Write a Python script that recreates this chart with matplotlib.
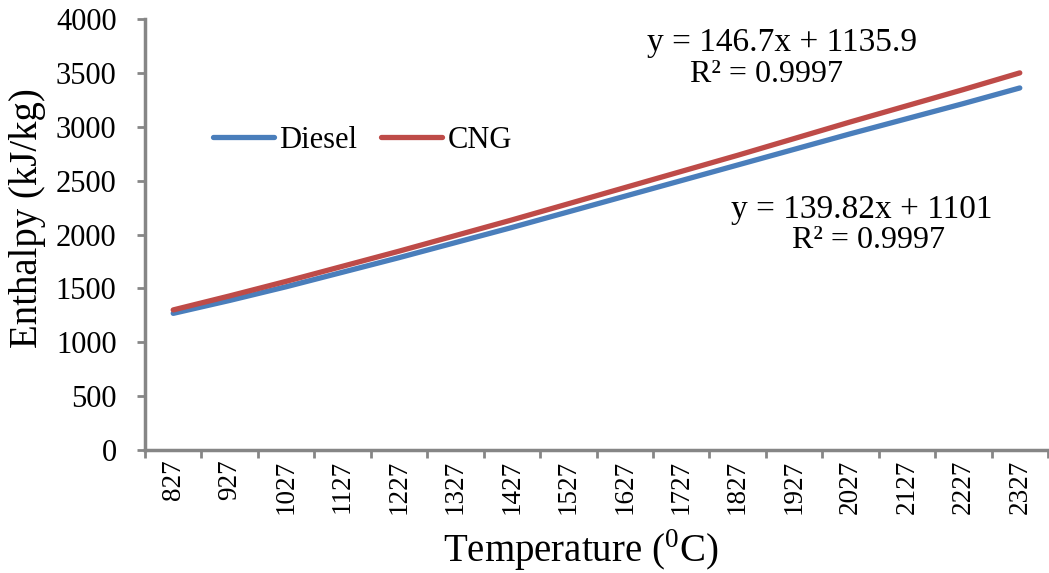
import matplotlib
matplotlib.use("Agg")
import matplotlib.pyplot as plt
import numpy as np

temperatures = ["827", "927", "1027", "1127", "1227", "1327", "1427", "1527",
                "1627", "1727", "1827", "1927", "2027", "2127", "2227", "2327"]
diesel = [1268, 1388, 1515, 1650, 1785, 1925, 2065, 2210,
          2355, 2500, 2645, 2790, 2935, 3075, 3215, 3360]
cng = [1300, 1430, 1565, 1705, 1845, 1990, 2135, 2285,
       2435, 2585, 2735, 2890, 3045, 3195, 3345, 3500]
yticks = [0, 500, 1000, 1500, 2000, 2500, 3000, 3500, 4000]

plt.rcParams['font.family'] = ['Liberation Serif', 'DejaVu Serif']
plt.rcParams['mathtext.fontset'] = 'custom'
plt.rcParams['mathtext.rm'] = 'Liberation Serif'

W, H = 1049, 573
fig = plt.figure(figsize=(W/100, H/100), dpi=100)
ax = fig.add_axes([145/W, 1-450/H, (1048-145)/W, (450-19)/H])

x = np.arange(len(temperatures))
blue = '#4A7EBB'
red = '#BE4B48'
ax.plot(x, diesel, color=blue, lw=3.8, solid_capstyle='round', label='Diesel')
ax.plot(x, cng, color=red, lw=3.8, solid_capstyle='round', label='CNG')

ax.set_xlim(-0.5, len(temperatures) - 0.5)
ax.set_ylim(0, 4000)
ax.set_yticks(yticks)
ax.set_yticklabels([str(v) for v in yticks], fontsize=22)

ax.set_xticks(np.arange(-0.5, len(temperatures)), minor=False)
ax.set_xticklabels([])
ax.set_xticks(x, minor=True)
ax.set_xticklabels(temperatures, minor=True, rotation=90, fontsize=19.5)
ax.tick_params(axis='x', which='minor', length=0, pad=7)
ax.tick_params(axis='x', which='major', length=6, width=2, color='#868686', direction='out')
ax.tick_params(axis='y', length=6, width=2, color='#868686', direction='out', pad=14.5)

for s in ['top', 'right']:
    ax.spines[s].set_visible(False)
for s in ['left', 'bottom']:
    ax.spines[s].set_color('#868686')
    ax.spines[s].set_linewidth(2.5)

fig.text(28/W, 1-218/H, 'Enthalpy (kJ/kg)', fontsize=28, rotation=90,
         ha='center', va='center')
fig.text(581/W, 1-550/H, r'Temperature ($^{\mathrm{0}}$C)', fontsize=28,
         ha='center', va='center')

leg = ax.legend(loc='center left', bbox_to_anchor=(185/W, 1-140/H),
                bbox_transform=fig.transFigure, ncol=2, frameon=False,
                fontsize=22, handlelength=2.0, handletextpad=0.17, columnspacing=0.8)

fig.text(782/W, 1-43/H, 'y = 146.7x + 1135.9', fontsize=24, ha='center', va='center')
fig.text(767/W, 1-75/H, 'R² = 0.9997', fontsize=23, ha='center', va='center')
fig.text(862/W, 1-210/H, 'y = 139.82x + 1101', fontsize=24, ha='center', va='center')
fig.text(868/W, 1-241/H, 'R² = 0.9997', fontsize=23, ha='center', va='center')

fig.savefig('out.png', dpi=100)
